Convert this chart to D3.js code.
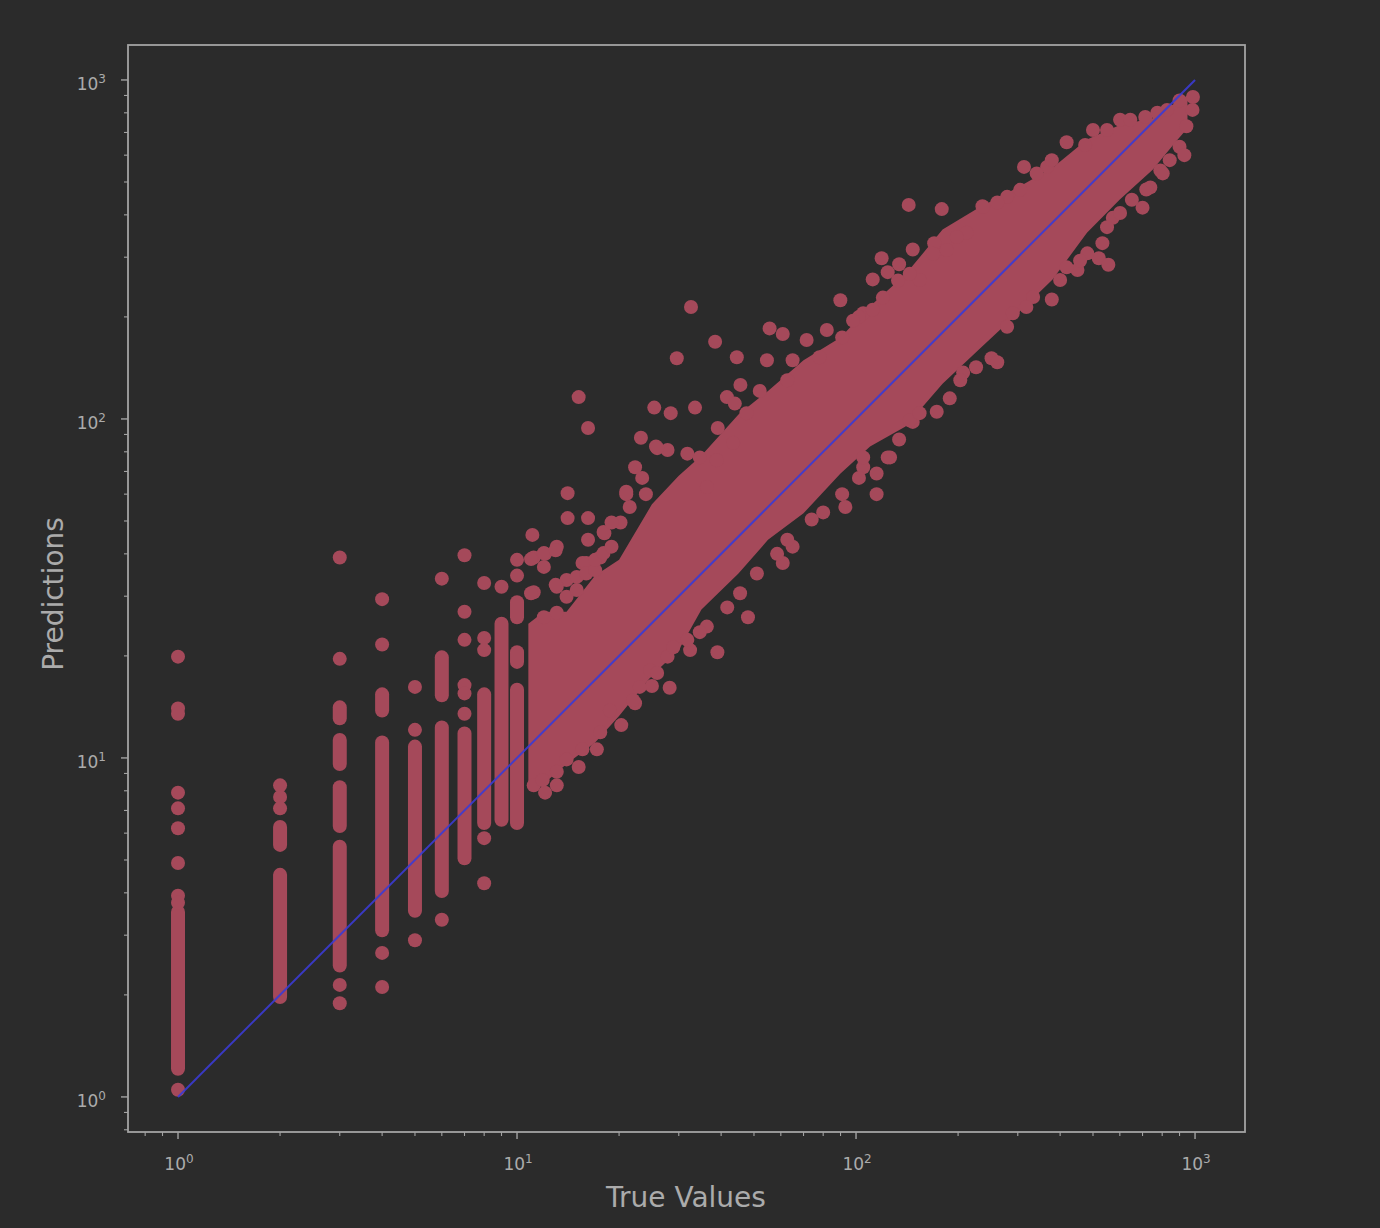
<!DOCTYPE html>
<html><head><meta charset="utf-8">
<script src="https://cdn.jsdelivr.net/npm/d3@7"></script>
<style>html,body{margin:0;background:#2b2b2b;}svg{display:block;}</style>
</head><body><svg id="c" width="1380" height="1228"></svg>
<script>
// ---- data ----
// integer true values 1..10: solid runs of overlapping predictions [true, lowPred, highPred]
const columnRuns = [
  [1,1.21,3.51],
  [2,1.97,4.52],[2,5.54,6.26],
  [3,2.44,5.47],[3,6.3,8.2],[3,9.6,11.3],[3,13.1,14.1],
  [4,3.1,11.1],[4,13.8,15.4],
  [5,3.54,10.8],
  [6,4.05,12.3],[6,15.3,19.8],
  [7,5.06,11.8],
  [8,6.43,15.4],
  [9,6.57,24.9],
  [10,6.43,15.9],[10,19.2,20.5],[10,26,28.8]
];
// isolated predictions for the integer true values
const columnTrue = [1,2,3,4,5,6,7,8,9,10];
const columnDots = [
  [19.9,14,13.5,7.9,7.1,6.2,4.9,3.92,3.74,1.05],
  [8.3,7.67,7.1],
  [39,19.6,2.14,1.89],
  [29.4,21.6,2.66,2.11],
  [16.2,12.1,2.9],
  [33.8,3.33],
  [39.6,27,22.3,16.4,15.5,13.5],
  [32.8,22.6,20.8,5.8,4.27],
  [32],
  [38.4,34.5]
];
// dense core of the cloud (true value, lower and upper prediction)
const bandTrue  = [10.8,12,14,17,20,25,30,35,45,55,70,90,110,140,180,230,300,380,480,600,750,880,950];
const bandUpper = [24.9,27,27,34.5,38.4,56,68,78,103,121,149,174,215,267,362,420,482,551,667,737,771,860,900];
const bandLower = [8.4,8.4,9.6,11.1,13.3,17.5,20.8,27.4,35,44,52.7,69,83,95,127,160,205,258,354,444,543,660,720];
// individual points around the core
const pointsAbove = [[32.6,214],[15.2,116],[16.2,94],[38.4,169],[29.6,151],[55.6,185],[60.8,178],[44.5,152],[54.6,149],[71.5,171],[82,183],[89.9,224],[45.6,126],[41.6,116],[43.9,111],[25.4,108],[28.4,104],[33.5,108],[39.1,94],[23.2,88],[22.3,72],[23.4,67],[14.1,60.4],[14.1,51],[16.2,51],[11.1,45.5],[16.2,44],[18.1,46],[20.2,49.5],[13.1,42],[11.2,39],[12.1,40],[11.2,30.8],[13.1,26.8],[143,428],[179,416],[313,554],[119,298],[124,271],[134,286],[147,316],[170,330],[112,258],[236,424],[21,61],[25.7,83]];
const pointsBelow = [[700,420],[572,392],[533,330],[520,298],[555,285],[378,225],[251,151],[261,147],[189,115],[173,105],[147,98],[124,77],[115,69],[115,60],[93,55],[65,42],[48,26],[39,20.5],[32.4,20.8],[28.2,16.1],[20.3,12.5],[17.2,10.6],[15.2,9.4],[12.1,7.9],[13.1,8.3],[11.2,8.3],[22.3,14.5],[25,16.3],[60.8,37.6]];
const edgeUpper = [[105,205],[120,228],[154,257],[185,315],[212,354],[237,422],[279,452],[305,474],[366,554],[418,655],[474,643],[500,712],[601,763],[713,778],[827,816],[986,891],[983,816],[102,200],[91,174],[78,152],[65,149],[62.7,130],[52,121],[47.5,104],[43.4,85],[38.8,75.6],[34.6,77],[31.8,79],[27.8,81],[25.9,82],[36.3,63],[24,60],[21,60],[21.5,55],[17.6,39],[15.6,37.6],[14,33.5],[13.1,32],[98,195],[112,210],[133,256],[144,268],[169,307],[198,344],[261,435],[341,530],[378,580],[550,712],[644,763],[774,800],[900,870]];
const edgeLower = [[943,730],[900,635],[842,580],[790,541],[738,482],[601,405],[481,308],[450,275],[400,257],[333,229],[290,205],[207,137],[105,72],[144,99],[126,77],[102,67],[91,60],[80,53],[74,50.5],[62.7,44],[58.5,40],[51,35],[45.5,30.6],[41.7,27.8],[36.3,24.4],[31.8,22.3],[27.8,19.9],[24.7,18.1],[23,16.2],[34.6,23.5],[28.9,21.2],[25.9,17.8],[22,14.8],[18.8,13.8],[17.6,11.9],[15.6,10.6],[14,9.9],[13.1,9.1],[11.9,8.6],[930,600],[803,530],[718,475],[651,443],[550,368],[458,293],[418,280],[318,214],[279,187],[226,142],[203,130],[154,104],[134,87],[105,77]];
const streaks = [[11,38.6],[11,30.6],[12,40.2],[12,36.6],[12,26],[13,41],[13,32.4],[14,29.9],[15,34.2],[15,31.3],[16,37.6],[16,35],[17,35.8],[17,38.4],[18,46.4],[18,40.2],[19,49.5],[19,42]];
const refLine = [1, 1000];
const tickValues = [1, 10, 100, 1000];
const tickExponents = ["0", "1", "2", "3"];
const xLabel = "True Values", yLabel = "Predictions";

// ---- drawing ----
const svg = d3.select("#c");
const L = 128, R = 1245, T = 45, B = 1132;
const x = d3.scaleLog().domain([0.712, 1404]).range([L, R]);
const y = d3.scaleLog().domain([0.788, 1268]).range([B, T]);
const dotColor = "#a5495a", axisColor = "#a3a3a3", textColor = "#ababab";
const rad = 7;

const plot = svg.append("g");
const bandData = bandTrue.map((t, i) => ({t, lo: bandLower[i], hi: bandUpper[i]}));
plot.append("path").datum(bandData)
  .attr("fill", dotColor)
  .attr("d", d3.area().x(d => x(d.t)).y0(d => y(d.lo)).y1(d => y(d.hi)));

plot.selectAll("line.run").data(columnRuns).join("line").attr("class", "run")
  .attr("x1", d => x(d[0])).attr("x2", d => x(d[0]))
  .attr("y1", d => y(d[1])).attr("y2", d => y(d[2]))
  .attr("stroke", dotColor).attr("stroke-width", rad * 2).attr("stroke-linecap", "round");

const pts = [];
columnTrue.forEach((t, i) => columnDots[i].forEach(p => pts.push([t, p])));
[pointsAbove, pointsBelow, edgeUpper, edgeLower, streaks].forEach(a => a.forEach(d => pts.push(d)));
plot.selectAll("circle.pt").data(pts).join("circle").attr("class", "pt")
  .attr("cx", d => x(d[0])).attr("cy", d => y(d[1])).attr("r", rad).attr("fill", dotColor);

plot.append("line")
  .attr("x1", x(refLine[0])).attr("y1", y(refLine[0]))
  .attr("x2", x(refLine[1])).attr("y2", y(refLine[1]))
  .attr("stroke", "#3b3bd4").attr("stroke-opacity", 0.9).attr("stroke-width", 2);

// frame
svg.append("rect").attr("x", L).attr("y", T).attr("width", R - L).attr("height", B - T)
  .attr("fill", "none").attr("stroke", axisColor).attr("stroke-width", 1.8);

// ticks
const minorX = x.ticks().filter(v => !tickValues.includes(v));
const minorY = y.ticks().filter(v => !tickValues.includes(v));
const g = svg.append("g").attr("stroke", axisColor);
tickValues.forEach(v => {
  g.append("line").attr("x1", x(v)).attr("x2", x(v)).attr("y1", B).attr("y2", B + 7).attr("stroke-width", 1.4);
  g.append("line").attr("y1", y(v)).attr("y2", y(v)).attr("x1", L).attr("x2", L - 7).attr("stroke-width", 1.4);
});
minorX.forEach(v => g.append("line").attr("x1", x(v)).attr("x2", x(v)).attr("y1", B).attr("y2", B + 4).attr("stroke-width", 1.1));
minorY.forEach(v => g.append("line").attr("y1", y(v)).attr("y2", y(v)).attr("x1", L).attr("x2", L - 4).attr("stroke-width", 1.1));

const font = "DejaVu Sans, sans-serif";
function tickLabel(px, py, anchor, exp) {
  const t = svg.append("text").attr("x", px).attr("y", py).attr("text-anchor", anchor)
    .attr("fill", textColor).attr("font-family", font).attr("font-size", 17);
  t.append("tspan").text("10");
  t.append("tspan").attr("dy", -7).attr("font-size", 12).text(exp);
}
tickValues.forEach((v, i) => {
  tickLabel(x(v) + 1, 1170, "middle", tickExponents[i]);
  tickLabel(106, y(v) + 10, "end", tickExponents[i]);
});

svg.append("text").attr("x", 686).attr("y", 1207).attr("text-anchor", "middle")
  .attr("fill", textColor).attr("font-family", font).attr("font-size", 28).text(xLabel);
svg.append("text").attr("transform", "translate(63,594) rotate(-90)").attr("text-anchor", "middle")
  .attr("fill", textColor).attr("font-family", font).attr("font-size", 28).text(yLabel);
</script></body></html>
